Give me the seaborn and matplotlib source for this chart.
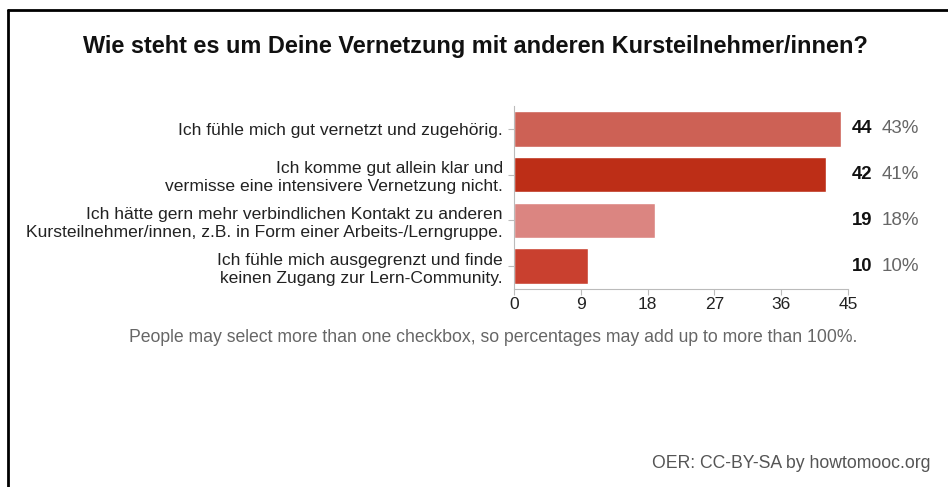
import matplotlib
matplotlib.use("Agg")
import matplotlib.pyplot as plt
import seaborn as sns
import pandas as pd
from matplotlib.lines import Line2D

categories = [
    "Ich fühle mich gut vernetzt und zugehörig.",
    "Ich komme gut allein klar und\nvermisse eine intensivere Vernetzung nicht.",
    "Ich hätte gern mehr verbindlichen Kontakt zu anderen\nKursteilnehmer/innen, z.B. in Form einer Arbeits-/Lerngruppe.",
    "Ich fühle mich ausgegrenzt und finde\nkeinen Zugang zur Lern-Community.",
]
counts = [44, 42, 19, 10]
percents = ["43%", "41%", "18%", "10%"]
colors = ["#CD6155", "#BD2E17", "#DB8581", "#C9402F"]
xticks = [0, 9, 18, 27, 36, 45]

title = "Wie steht es um Deine Vernetzung mit anderen Kursteilnehmer/innen?"
footnote = "People may select more than one checkbox, so percentages may add up to more than 100%."
credit = "OER: CC-BY-SA by howtomooc.org"

sns.set_theme(style="white")
plt.rcParams["font.family"] = ["Liberation Sans", "DejaVu Sans"]

df = pd.DataFrame({"cat": categories, "count": counts})

fig = plt.figure(figsize=(9.48, 4.87), dpi=100)
ax = fig.add_axes([514 / 948, 1 - 289 / 487, (848 - 514) / 948, (289 - 106) / 487])

sns.barplot(data=df, y="cat", x="count", hue="cat", palette=colors, legend=False,
            orient="h", width=0.78, ax=ax, saturation=1)

ax.set_xlim(0, 45)
ax.set_xticks(xticks)
ax.set_xticklabels([str(t) for t in xticks], fontsize=12.5, color="#222222")
ax.set_ylabel("")
ax.set_xlabel("")
ax.set_yticks(range(len(categories)))
ax.set_yticklabels(categories, fontsize=12.6, color="#222222", linespacing=1.25)
for s in ["top", "right"]:
    ax.spines[s].set_visible(False)
for s in ["left", "bottom"]:
    ax.spines[s].set_color("#bbbbbb")
    ax.spines[s].set_linewidth(0.8)
ax.tick_params(axis="y", which="both", length=4, color="#bbbbbb", width=0.8,
               left=True, pad=4)
ax.tick_params(axis="x", which="both", length=4, color="#bbbbbb", width=0.8,
               bottom=True, pad=2)

for i, (c, p) in enumerate(zip(counts, percents)):
    ax.annotate(str(c), xy=(1, i), xycoords=("axes fraction", "data"),
                xytext=(3, 0), textcoords="offset points", va="center", ha="left",
                fontsize=13.3, fontweight="bold", color="#111111")
    ax.annotate(p, xy=(1, i), xycoords=("axes fraction", "data"),
                xytext=(24, 0), textcoords="offset points", va="center", ha="left",
                fontsize=13.5, color="#666666")

fig.text(475 / 948, 1 - 47 / 487, title, ha="center", va="center", fontsize=16.9,
         fontweight="bold", color="#111111")
fig.text(493 / 948, 1 - 338 / 487, footnote, ha="center", va="center",
         fontsize=12.7, color="#666666")
fig.text(930 / 948, 1 - 463 / 487, credit, ha="right", va="center",
         fontsize=12.7, color="#555555")

fig.add_artist(Line2D([8 / 948, 1.0], [1 - 10 / 487, 1 - 10 / 487],
                      transform=fig.transFigure, color="black", linewidth=2))
fig.add_artist(Line2D([8 / 948, 8 / 948], [0, 1 - 10 / 487],
                      transform=fig.transFigure, color="black", linewidth=2))

fig.savefig("out.png", dpi=100)
